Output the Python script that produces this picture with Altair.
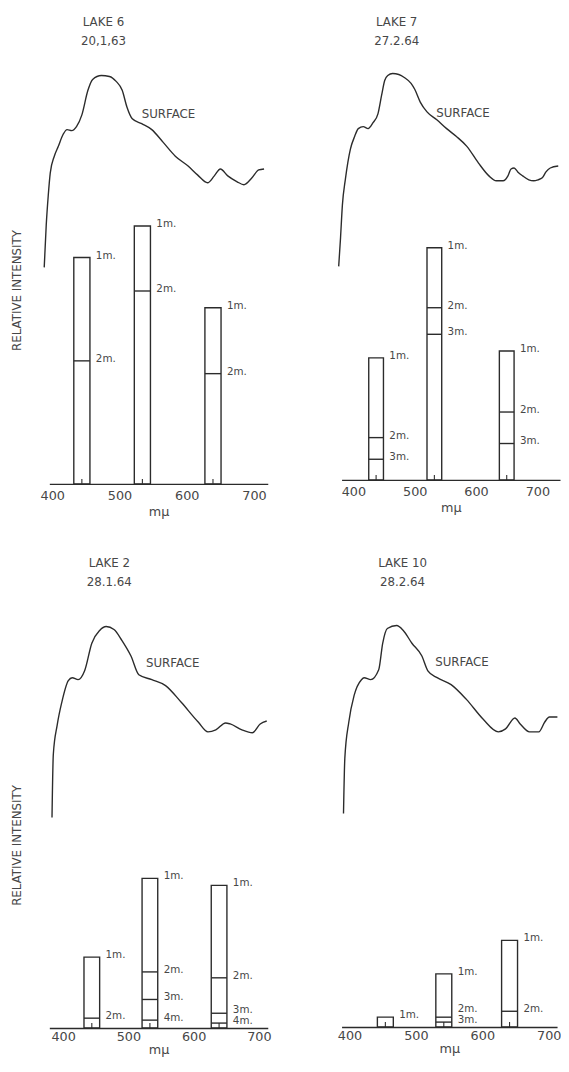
import altair as alt
import pandas as pd

# ---------------- data ----------------
LAKES = ["LAKE 6", "LAKE 7", "LAKE 2", "LAKE 10"]
DATES = ["20,1,63", "27.2.64", "28.1.64", "28.2.64"]
X_TICKS = [400, 500, 600, 700]
DEPTHS = ["1m.", "2m.", "3m.", "4m."]
BAND_HALF_WIDTH = 12  # nm, half width of each filter band

# Lake 6 (20,1,63)
L6_FILTER_NM = [444, 534, 639]
L6_1M = [230, 262, 179]
L6_2M = [125, 196, 112]
L6_SURF_NM = [388, 391, 394, 397, 403, 409, 416, 422, 429, 436, 444, 453, 460, 473, 485, 495, 504,
              511, 519, 533, 548, 565, 583, 602, 616, 631, 641, 650, 661, 675, 685, 697, 707, 715]
L6_SURF_I = [220, 263, 293, 316, 333, 343, 355, 360, 359, 363, 375, 400, 411, 415, 414, 409, 400,
             383, 371, 366, 360, 347, 333, 323, 314, 306, 313, 320, 313, 307, 304, 311, 319, 320]

# Lake 7 (27.2.64)
L7_FILTER_NM = [437, 532, 650]
L7_1M = [124, 236, 131]
L7_2M = [43, 175, 69]
L7_3M = [21, 148, 37]
L7_SURF_NM = [376, 379, 382, 387, 395, 402, 408, 416, 424, 432, 440, 446, 451, 456, 464, 474, 483,
              494, 500, 509, 520, 536, 552, 568, 585, 604, 621, 633, 644, 652, 657, 662, 668, 676,
              686, 694, 701, 708, 714, 721, 734]
L7_SURF_I = [217, 246, 279, 306, 336, 349, 357, 359, 357, 363, 372, 391, 406, 411, 413, 412, 409,
             403, 397, 384, 374, 366, 357, 349, 339, 322, 309, 304, 304, 309, 316, 317, 313, 309,
             305, 304, 305, 307, 313, 317, 319]

# Lake 2 (28.1.64)
L2_FILTER_NM = [444, 533, 639]
L2_1M = [72, 152, 145]
L2_2M = [10, 57, 51]
L2_3M = [None, 29, 15]
L2_4M = [None, 8, 5]
L2_SURF_NM = [383, 385, 391, 398, 408, 414, 423, 433, 444, 456, 466, 478, 490, 504, 516, 536, 557,
              581, 607, 622, 634, 649, 656, 674, 690, 702, 712]
L2_SURF_I = [214, 278, 308, 331, 353, 356, 354, 363, 391, 404, 408, 405, 394, 378, 359, 354, 348,
             331, 311, 301, 303, 310, 309, 303, 300, 309, 312]

# Lake 10 (28.2.64)
L10_FILTER_NM = [454, 542, 641]
L10_1M = [10, 54, 88]
L10_2M = [None, 10, 16]
L10_3M = [None, 5, None]
L10_SURF_NM = [391, 393, 399, 407, 418, 422, 432, 444, 450, 457, 471, 481, 494, 509, 518, 532, 553,
               576, 601, 624, 635, 649, 657, 671, 685, 694, 701, 713]
L10_SURF_I = [217, 273, 310, 337, 353, 355, 353, 363, 390, 405, 408, 403, 390, 377, 362, 355, 348,
              333, 313, 300, 303, 314, 308, 300, 300, 310, 315, 315]

# ---------------- layout / style ----------------
FONT = "DejaVu Sans"
INK = "#2b2b2b"
TEXT = "#474747"
LW = 1.4
TICK_LEN = 5          # small centre tick inside each bar
LABEL_LIFT = 2        # depth label sits just above its line
LABEL_GAP = 11        # minimum vertical gap between stacked depth labels
SURFACE_AT_NM = [533, 535, 527, 529]
SURFACE_AT_I = [376, 373, 371, 371]

PANELS = [
    dict(domain=[395.6, 720.5], width=222, height=423, ytitle=True, titleY=226, tdx=55,
         lpad=6, tpad=3,
         filt=L6_FILTER_NM, depths=[L6_1M, L6_2M], snm=L6_SURF_NM, si=L6_SURF_I),
    dict(domain=[380.7, 736.9], width=222, height=419, ytitle=False, titleY=0, tdx=56,
         lpad=6, tpad=3,
         filt=L7_FILTER_NM, depths=[L7_1M, L7_2M, L7_3M], snm=L7_SURF_NM, si=L7_SURF_I),
    dict(domain=[378.9, 713.6], width=222, height=426, ytitle=True, titleY=240, tdx=61,
         lpad=3, tpad=0,
         filt=L2_FILTER_NM, depths=[L2_1M, L2_2M, L2_3M, L2_4M], snm=L2_SURF_NM, si=L2_SURF_I),
    dict(domain=[388.1, 712.5], width=219, height=425, ytitle=False, titleY=0, tdx=62,
         lpad=3, tpad=0,
         filt=L10_FILTER_NM, depths=[L10_1M, L10_2M, L10_3M], snm=L10_SURF_NM, si=L10_SURF_I),
]


def build_panel(i, p):
    filt = p["filt"]
    bars, lines, labels, ticks = [], [], [], []
    for j, c in enumerate(filt):
        lo, hi = c - BAND_HALF_WIDTH, c + BAND_HALF_WIDTH
        ticks.append({"nm": c, "t0": 0, "t1": TICK_LEN})
        vals = []
        for d, arr in zip(DEPTHS, p["depths"]):
            v = arr[j]
            if v is None:
                continue
            vals.append((v, d))
            if d == "1m.":
                bars.append({"lo": lo, "hi": hi, "v": v, "v0": 0})
            else:
                lines.append({"lo": lo, "hi": hi, "v": v})
        prev = -1e9
        for v, d in sorted(vals):
            ly = max(v + LABEL_LIFT, prev + LABEL_GAP)
            prev = ly
            labels.append({"hi": hi, "ly": ly, "depth": d})

    surf = pd.DataFrame({"nm": p["snm"], "v": p["si"]})
    xs = alt.Scale(domain=p["domain"], nice=False, zero=False)
    ys = alt.Scale(domain=[0, p["height"]], nice=False, zero=True)
    xaxis = alt.Axis(values=X_TICKS, format="d", title="mμ", ticks=False, grid=False,
                     domainColor=INK, domainWidth=LW, labelFont=FONT, labelFontSize=13,
                     labelColor=TEXT, labelPadding=p["lpad"], titleFont=FONT, titleFontSize=13,
                     titleFontWeight="normal", titleColor=TEXT, titlePadding=p["tpad"])
    if p["ytitle"]:
        yaxis = alt.Axis(title="RELATIVE INTENSITY", domain=False, ticks=False, labels=False,
                         grid=False, titleFont=FONT, titleFontSize=12, titleFontWeight="normal",
                         titleColor=TEXT, titlePadding=26, titleY=p["titleY"])
    else:
        yaxis = None

    def X(field):
        return alt.X(field, type="quantitative", scale=xs, axis=xaxis)

    def Y(field):
        if yaxis is None:
            return alt.Y(field, type="quantitative", scale=ys, axis=None)
        return alt.Y(field, type="quantitative", scale=ys, axis=yaxis)

    curve = alt.Chart(surf).mark_line(interpolate="monotone", color=INK, strokeWidth=LW).encode(
        x=X("nm"), y=Y("v"))
    rect = alt.Chart(pd.DataFrame(bars)).mark_rect(fillOpacity=0, stroke=INK, strokeWidth=LW).encode(
        x=X("lo"), x2="hi", y=Y("v"), y2="v0")
    layers = [curve, rect]
    if lines:
        rule = alt.Chart(pd.DataFrame(lines)).mark_rule(color=INK, strokeWidth=LW).encode(
            x=X("lo"), x2="hi", y=Y("v"))
        layers.append(rule)
    tick = alt.Chart(pd.DataFrame(ticks)).mark_rule(color=INK, strokeWidth=1.1).encode(
        x=X("nm"), y=Y("t0"), y2="t1")
    lab = alt.Chart(pd.DataFrame(labels)).mark_text(
        align="left", baseline="middle", dx=6, font=FONT, fontSize=10.5, color=TEXT).encode(
        x=X("hi"), y=Y("ly"), text="depth:N")
    surf_lab = alt.Chart(pd.DataFrame({"nm": [SURFACE_AT_NM[i]], "v": [SURFACE_AT_I[i]],
                                       "t": ["SURFACE"]})).mark_text(
        align="left", baseline="middle", font=FONT, fontSize=12, color=TEXT).encode(
        x=X("nm"), y=Y("v"), text="t:N")
    layers += [tick, lab, surf_lab]

    return alt.layer(*layers).properties(
        width=p["width"], height=p["height"],
        title=alt.TitleParams(text=[LAKES[i], DATES[i]], anchor="start", frame="group",
                              align="center", dx=p["tdx"], dy=-9,
                              font=FONT, fontSize=12, fontWeight="normal", color=TEXT,
                              lineHeight=19, offset=11))


charts = [build_panel(i, p) for i, p in enumerate(PANELS)]

chart = alt.vconcat(
    alt.hconcat(charts[0], charts[1], spacing=69),
    alt.hconcat(charts[2], charts[3], spacing=66),
    spacing=40,
).properties(
    padding={"left": 3, "top": 0, "right": 0, "bottom": 0},
    background="white",
).configure_view(strokeWidth=0)

chart.save("out.html", embed_options={"renderer": "svg", "actions": False})
